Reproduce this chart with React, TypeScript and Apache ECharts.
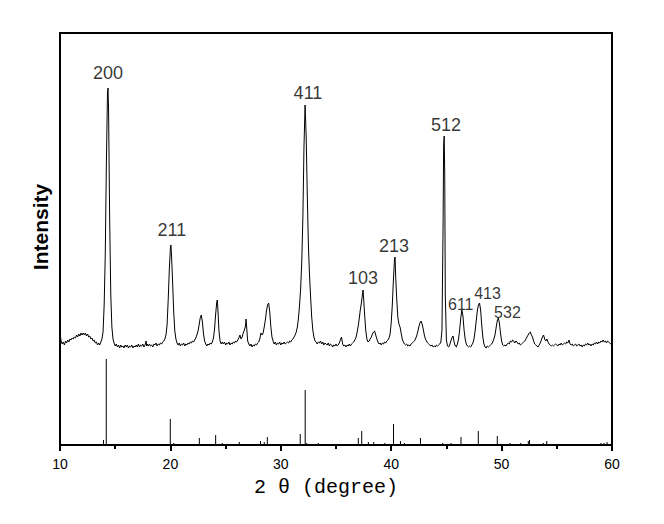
import React, { useEffect, useRef } from "react";
import * as echarts from "echarts";

// Measured XRD pattern: [2θ (degree), intensity (a.u.)]
const xrdPattern: [number, number][] = [
  [10.0,117],[10.05,108],[10.1,104],[10.2,101],[10.3,103],[10.4,100],[10.5,104],[10.6,102],[10.7,105],[10.8,103],[10.9,106],
  [11.0,105],[11.1,107],[11.2,106],[11.3,108],[11.4,107],[11.5,110],[11.6,108],[11.7,111],[11.8,109],[11.9,112],
  [12.0,110],[12.1,112],[12.2,110],[12.3,112],[12.4,109],[12.5,111],[12.6,108],[12.7,109],[12.8,106],[12.9,107],
  [13.0,104],[13.1,105],[13.2,102],[13.3,103],[13.4,100],[13.5,102],[13.6,100],[13.7,103],[13.8,106],[13.9,113],
  [14.0,140],[14.1,190],[14.2,280],[14.3,352],[14.35,357],[14.4,335],[14.5,225],[14.6,150],[14.7,118],[14.8,106],[14.9,102],
  [15.0,99],[15.1,101],[15.2,98],[15.3,100],[15.4,97],[15.5,100],[15.6,98],[15.7,99],[15.8,97],[15.9,100],
  [16.0,98],[16.1,100],[16.2,97],[16.3,99],[16.4,98],[16.5,100],[16.6,97],[16.7,99],[16.8,98],[16.9,100],
  [17.0,98],[17.1,101],[17.2,98],[17.3,100],[17.4,99],[17.5,101],[17.6,98],[17.7,100],[17.8,104],[17.85,99],[17.9,101],
  [18.0,99],[18.1,101],[18.2,99],[18.3,100],[18.4,98],[18.5,101],[18.6,100],[18.7,102],[18.8,99],[18.9,101],
  [19.0,100],[19.1,102],[19.2,101],[19.3,103],[19.4,104],[19.5,106],[19.6,110],[19.7,120],[19.8,145],[19.9,175],
  [20.0,197],[20.05,200],[20.1,190],[20.2,163],[20.3,133],[20.4,114],[20.5,106],[20.6,102],[20.7,100],[20.8,102],[20.9,99],
  [21.0,101],[21.1,100],[21.2,102],[21.3,99],[21.4,101],[21.5,100],[21.6,102],[21.7,101],[21.8,103],[21.9,102],
  [22.0,104],[22.1,103],[22.2,105],[22.3,107],[22.4,110],[22.5,114],[22.6,120],[22.7,127],[22.8,130],[22.9,123],
  [23.0,111],[23.1,104],[23.2,101],[23.3,99],[23.4,101],[23.5,100],[23.6,102],[23.7,101],[23.8,103],[23.9,107],
  [24.0,116],[24.1,131],[24.2,143],[24.25,145],[24.3,136],[24.4,114],[24.5,104],[24.6,101],[24.7,103],[24.8,101],[24.9,103],
  [25.0,100],[25.1,102],[25.2,101],[25.3,103],[25.4,100],[25.5,102],[25.6,101],[25.7,103],[25.8,102],[25.9,104],
  [26.0,103],[26.1,105],[26.2,107],[26.3,110],[26.4,106],[26.5,108],[26.6,112],[26.7,115],[26.8,119],[26.85,126],[26.9,119],
  [27.0,104],[27.1,101],[27.2,99],[27.3,101],[27.4,98],[27.5,100],[27.6,99],[27.7,101],[27.8,100],[27.9,102],
  [28.0,103],[28.1,106],[28.2,112],[28.3,110],[28.4,112],[28.5,118],[28.6,125],[28.7,134],[28.8,140],[28.9,142],
  [29.0,133],[29.1,118],[29.2,108],[29.3,104],[29.4,101],[29.5,103],[29.6,100],[29.7,102],[29.8,101],[29.9,103],
  [30.0,100],[30.1,102],[30.2,101],[30.3,103],[30.4,101],[30.5,102],[30.6,103],[30.7,102],[30.8,104],[30.9,103],
  [31.0,105],[31.1,106],[31.2,108],[31.3,110],[31.4,113],[31.5,118],[31.6,127],[31.7,140],[31.8,157],[31.9,184],
  [32.0,228],[32.1,298],[32.2,340],[32.3,308],[32.4,250],[32.5,200],[32.6,170],[32.7,148],[32.8,128],[32.9,115],
  [33.0,108],[33.1,104],[33.2,103],[33.3,101],[33.4,103],[33.5,102],[33.6,104],[33.7,101],[33.8,103],[33.9,100],
  [34.0,102],[34.1,101],[34.2,100],[34.3,102],[34.4,99],[34.5,101],[34.6,100],[34.7,98],[34.8,100],[34.9,99],
  [35.0,101],[35.1,99],[35.2,100],[35.3,102],[35.4,105],[35.5,108],[35.6,101],[35.7,99],[35.8,100],[35.9,98],
  [36.0,100],[36.1,99],[36.2,101],[36.3,99],[36.4,101],[36.5,102],[36.6,103],[36.7,105],[36.8,107],[36.9,112],
  [37.0,118],[37.1,126],[37.2,135],[37.3,142],[37.4,151],[37.45,155],[37.5,147],[37.6,129],[37.7,114],[37.8,106],[37.9,103],
  [38.0,104],[38.1,106],[38.2,108],[38.3,111],[38.4,113],[38.5,114],[38.6,110],[38.7,106],[38.8,103],[38.9,101],
  [39.0,102],[39.1,100],[39.2,102],[39.3,101],[39.4,103],[39.5,102],[39.6,104],[39.7,105],[39.8,107],[39.9,111],
  [40.0,122],[40.1,140],[40.2,165],[40.3,186],[40.35,188],[40.4,170],[40.5,146],[40.6,128],[40.7,121],[40.8,118],[40.9,112],
  [41.0,106],[41.1,103],[41.2,101],[41.3,100],[41.4,101],[41.5,99],[41.6,100],[41.7,99],[41.8,101],[41.9,102],
  [42.0,103],[42.1,104],[42.2,106],[42.3,109],[42.4,113],[42.5,118],[42.6,122],[42.7,124],[42.8,121],[42.9,116],
  [43.0,110],[43.1,106],[43.2,104],[43.3,102],[43.4,101],[43.5,100],[43.6,99],[43.7,100],[43.8,98],[43.9,99],
  [44.0,98],[44.1,100],[44.2,99],[44.3,100],[44.4,101],[44.5,103],[44.6,115],[44.7,220],[44.75,300],[44.8,309],[44.85,270],[44.9,150],
  [45.0,105],[45.1,99],[45.2,98],[45.3,100],[45.4,104],[45.5,107],[45.6,109],[45.7,103],[45.8,99],[45.9,98],
  [46.0,101],[46.1,106],[46.2,115],[46.3,127],[46.4,135],[46.5,129],[46.6,115],[46.7,106],[46.8,101],[46.9,99],
  [47.0,98],[47.1,99],[47.2,98],[47.3,100],[47.4,102],[47.5,106],[47.6,114],[47.7,124],[47.8,134],[47.9,140],
  [48.0,142],[48.1,135],[48.2,120],[48.3,108],[48.4,101],[48.5,98],[48.6,97],[48.7,99],[48.8,98],[48.9,99],
  [49.0,100],[49.1,101],[49.2,103],[49.3,106],[49.4,110],[49.5,117],[49.6,124],[49.7,127],[49.8,122],[49.9,112],
  [50.0,104],[50.1,100],[50.2,99],[50.3,100],[50.4,99],[50.5,101],[50.6,102],[50.7,101],[50.8,104],[50.9,103],
  [51.0,105],[51.1,104],[51.2,102],[51.3,104],[51.4,103],[51.5,101],[51.6,102],[51.7,100],[51.8,101],[51.9,102],
  [52.0,103],[52.1,104],[52.2,106],[52.3,108],[52.4,110],[52.5,112],[52.6,113],[52.7,110],[52.8,108],[52.9,104],
  [53.0,101],[53.1,100],[53.2,99],[53.3,98],[53.4,100],[53.5,102],[53.6,105],[53.7,108],[53.8,110],[53.9,106],
  [54.0,104],[54.1,106],[54.2,103],[54.3,101],[54.4,100],[54.5,99],[54.6,100],[54.7,99],[54.8,100],[54.9,101],
  [55.0,100],[55.1,99],[55.2,101],[55.3,100],[55.4,102],[55.5,100],[55.6,101],[55.7,102],[55.8,101],[55.9,103],
  [56.0,102],[56.1,105],[56.2,101],[56.3,100],[56.4,101],[56.5,99],[56.6,100],[56.7,101],[56.8,99],[56.9,100],
  [57.0,101],[57.1,99],[57.2,100],[57.3,98],[57.4,100],[57.5,99],[57.6,101],[57.7,100],[57.8,102],[57.9,100],
  [58.0,101],[58.1,99],[58.2,101],[58.3,100],[58.4,102],[58.5,101],[58.6,103],[58.7,101],[58.8,103],[58.9,102],
  [59.0,104],[59.1,103],[59.2,105],[59.3,103],[59.4,104],[59.5,102],[59.6,104],[59.7,103],[59.8,102],[59.9,101],
  [60.0,101],
];

// Standard reference pattern (stick lines): [2θ, relative intensity]
const referenceSticks: [number, number][] = [
  [10.0,3],[13.94,5],[14.19,86],[19.99,26],[20.3,2],[22.62,7],[24.1,10],[24.7,2],[26.24,3],[28.16,4],
  [28.5,3],[28.78,8],[31.76,11],[32.21,55],[32.35,2],[33.4,2],[37.02,7],[37.33,14],[37.93,3],[38.42,3],
  [39.42,2],[40.21,21],[40.84,4],[41.2,2],[42.65,7],[44.66,2],[45.42,2],[46.32,8],[47.89,14],[49.61,9],
  [50.76,2],[51.73,2],[52.42,4],[52.53,5],[53.78,2],[54.09,4],[59.0,2],[59.27,2],[59.55,3],
];

// Peak (hkl) annotations
const peakNames = ["200", "211", "411", "103", "213", "512", "611", "413", "532"];
const peakLabelTheta = [14.35, 20.14, 32.46, 37.45, 40.25, 44.96, 46.3, 48.72, 50.53];
const peakLabelIntensity = [372, 215, 352, 167, 199, 320, 141, 151.5, 132.5];
const smallPeakNames = ["611", "413", "532"];

const xTickMin = 10;
const xTickMax = 60;
const xTickStep = 10;

export default function App() {
  const ref = useRef<HTMLDivElement>(null);

  useEffect(() => {
    if (!ref.current) return;
    const chart = echarts.init(ref.current, null, { renderer: "svg" });

    const labelData = peakNames.map((n, i) => ({
      name: n,
      value: [peakLabelTheta[i], peakLabelIntensity[i]],
      label: smallPeakNames.includes(n)
        ? { fontSize: 16, color: "#000" }
        : { fontSize: 18, color: "#000" },
    }));

    const hiddenAxis = {
      axisTick: { show: false },
      axisLabel: { show: false },
      splitLine: { show: false },
    };

    chart.setOption({
      animation: false,
      backgroundColor: "#fff",
      grid: { left: 60, right: 52, top: 33, bottom: 79, containLabel: false },
      xAxis: [
        {
          type: "value",
          min: xTickMin,
          max: xTickMax,
          interval: xTickStep,
          position: "bottom",
          axisLine: { show: true, onZero: false, lineStyle: { color: "#000", width: 2 } },
          axisTick: { show: true, inside: false, length: 6, lineStyle: { color: "#000", width: 2 } },
          minorTick: { show: true, splitNumber: 2, length: 4, lineStyle: { color: "#000", width: 2 } },
          axisLabel: {
            color: "#000",
            fontSize: 14,
            fontFamily: "'Liberation Sans', Arial, sans-serif",
            margin: 12,
            showMinLabel: true,
            showMaxLabel: true,
          },
          splitLine: { show: false },
          minorSplitLine: { show: false },
        },
        {
          type: "value",
          min: xTickMin,
          max: xTickMax,
          position: "top",
          axisLine: { show: true, onZero: false, lineStyle: { color: "#000", width: 2 } },
          ...hiddenAxis,
        },
      ],
      yAxis: [
        {
          type: "value",
          min: 0,
          max: 412,
          position: "left",
          axisLine: { show: true, onZero: false, lineStyle: { color: "#000", width: 2 } },
          ...hiddenAxis,
        },
        {
          type: "value",
          min: 0,
          max: 412,
          position: "right",
          axisLine: { show: true, onZero: false, lineStyle: { color: "#000", width: 2 } },
          ...hiddenAxis,
        },
      ],
      series: [
        {
          type: "line",
          name: "sample",
          data: xrdPattern,
          xAxisIndex: 0,
          yAxisIndex: 0,
          symbol: "none",
          showSymbol: false,
          lineStyle: { color: "#000", width: 1 },
          silent: true,
        },
        {
          type: "custom",
          name: "reference",
          xAxisIndex: 0,
          yAxisIndex: 0,
          data: referenceSticks,
          renderItem: (params: any, api: any) => {
            const x = api.value(0);
            const h = api.value(1);
            const p0 = api.coord([x, 0]);
            const p1 = api.coord([x, h]);
            return {
              type: "line",
              shape: { x1: p0[0], y1: p0[1], x2: p1[0], y2: p1[1] },
              style: { stroke: "#000", lineWidth: 1 },
            };
          },
          silent: true,
        },
        {
          type: "scatter",
          name: "hkl",
          xAxisIndex: 0,
          yAxisIndex: 0,
          symbolSize: 0,
          data: labelData,
          label: {
            show: true,
            position: "inside",
            formatter: (p: any) => p.name,
            fontFamily: "'Liberation Sans', Arial, sans-serif",
            color: "#000",
            textBorderWidth: 0,
            align: "center",
            verticalAlign: "middle",
          },
          silent: true,
        },
      ],
      graphic: [
        {
          type: "text",
          x: 40,
          y: 227,
          rotation: Math.PI / 2,
          style: {
            text: "Intensity",
            font: "bold 21px 'Liberation Sans', Arial, sans-serif",
            fill: "#000",
            align: "center",
            verticalAlign: "middle",
          },
        },
        {
          type: "text",
          x: 326,
          y: 487,
          style: {
            text: "2 θ (degree)",
            font: "20px 'Liberation Mono', 'DejaVu Sans Mono', monospace",
            fill: "#000",
            align: "center",
            verticalAlign: "middle",
          },
        },
      ],
    });

    return () => chart.dispose();
  }, []);

  return (
    <div
      ref={ref}
      style={{ position: "fixed", left: 0, top: 0, width: 664, height: 524, background: "#fff" }}
    />
  );
}
